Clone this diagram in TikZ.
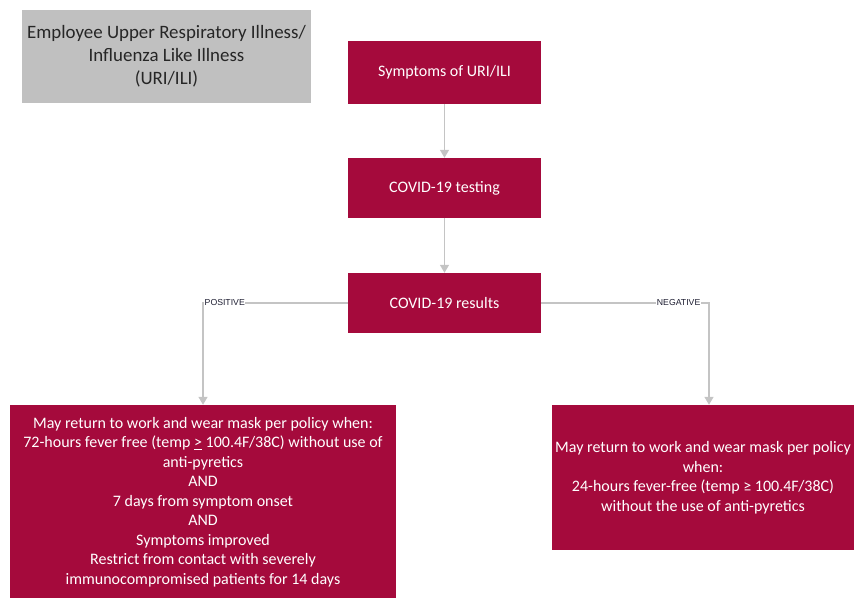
\documentclass[tikz,border=0pt]{standalone}
\usepackage{fontspec}
\setmainfont{Carlito}
\newfontfamily\tagfont{Liberation Sans}
\usetikzlibrary{arrows.meta}
\definecolor{wine}{RGB}{165,10,60}
\definecolor{panelgrey}{RGB}{192,192,192}
\definecolor{linkgrey}{RGB}{196,196,196}
\definecolor{tagink}{RGB}{30,30,50}
\begin{document}
\begin{tikzpicture}[x=1pt,y=-1pt,
  stepbox/.style={rectangle, fill=wine, text=white, inner sep=0pt, align=center,
    font=\fontsize{16}{19.5}\selectfont},
  titlebox/.style={rectangle, fill=panelgrey, text=black!85, inner sep=0pt, align=center,
    font=\fontsize{18.9}{23}\selectfont},
  link/.style={draw=linkgrey, line width=1.4pt, -{Triangle[width=9pt,length=8pt]}},
  tag/.style={fill=white, inner sep=0.5pt, text=tagink, font=\tagfont\fontsize{8.7}{10}\selectfont}]
\useasboundingbox (0,0) rectangle (854,597);
\clip (0,0) rectangle (854,597);

% heading panel
\node[titlebox, minimum width=289pt, minimum height=93pt] (title) at (166.5,56.5)
  {Employee Upper Respiratory Illness/\\Influenza Like Illness\\(URI/ILI)};

% main flow
\node[stepbox, minimum width=193pt, minimum height=63pt] (sym) at (444.5,72.5) {Symptoms of URI/ILI};
\node[stepbox, minimum width=193pt, minimum height=60pt] (test) at (444.5,188) {COVID-19 testing};
\node[stepbox, minimum width=193pt, minimum height=60pt] (res) at (444.5,303) {COVID-19 results};

% outcomes
\node[stepbox, minimum width=386pt, minimum height=194pt] (pos) at (203,502)
  {May return to work and wear mask per policy when:\\
   72-hours fever free (temp \underline{>} 100.4F/38C) without use of\\
   anti-pyretics\\
   AND\\
   7 days from symptom onset\\
   AND\\
   Symptoms improved\\
   Restrict from contact with severely\\
   immunocompromised patients for 14 days};
\node[stepbox, minimum width=302pt, minimum height=145pt] (neg) at (703,477.5)
  {May return to work and wear mask per policy\\
   when:\\
   24-hours fever-free (temp ≥ 100.4F/38C)\\
   without the use of anti-pyretics};

% connectors
\coordinate (posturn) at (203,303);
\coordinate (negturn) at (709,303);
\draw[link] (sym) -- (test);
\draw[link] (test) -- (res);
\draw[link] (res.west) -- (posturn) -- (posturn |- pos.north);
\draw[link] (res.east) -- (negturn) -- (negturn |- neg.north);

% branch labels
\node[tag, anchor=west] (ptag) at (204,303) {POSITIVE};
\node[tag, anchor=east] (ntag) at (701,303) {NEGATIVE};
\end{tikzpicture}
\end{document}
